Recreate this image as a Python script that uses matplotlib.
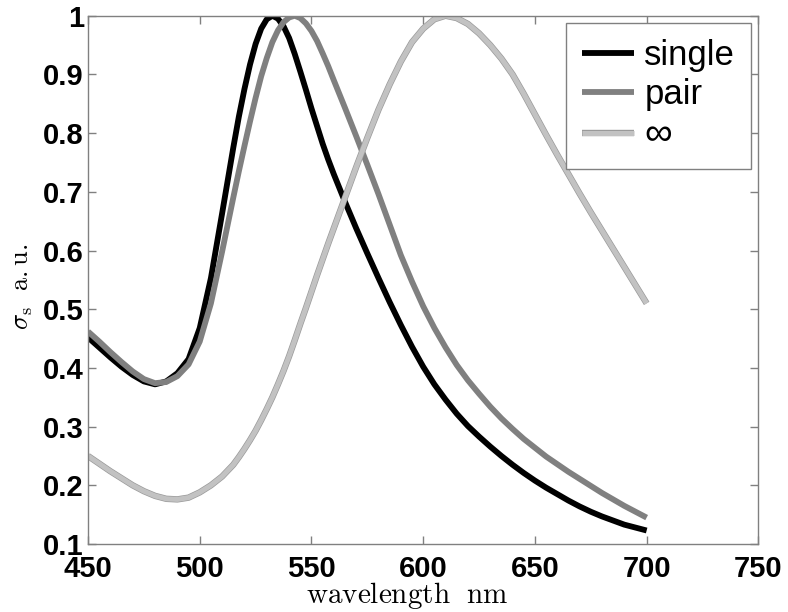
import matplotlib
matplotlib.use('Agg')
import matplotlib.pyplot as plt
import matplotlib.patheffects as pe

plt.rcParams['font.family'] = ['Liberation Sans', 'DejaVu Sans']
plt.rcParams['mathtext.fontset'] = 'cm'

wavelength = [450, 455, 460, 465, 470, 475, 480, 485, 490, 495,
              500, 505, 510,
              515, 517.5, 520, 522.5, 525, 527.5, 530, 532.5, 535, 537.5,
              540, 542.5, 545, 547.5, 550, 552.5, 555, 557.5, 560,
              565, 570, 575, 580, 585, 590, 595,
              600, 605, 610, 615, 620, 625, 630, 635, 640, 645,
              650, 655, 660, 665, 670, 675, 680, 685, 690, 695, 700]

single = [0.452, 0.435, 0.418, 0.402, 0.388, 0.377, 0.372, 0.377, 0.391, 0.415,
          0.468, 0.553, 0.663,
          0.775, 0.828, 0.875, 0.917, 0.952, 0.978, 0.994, 1.000, 0.995, 0.982,
          0.962, 0.935, 0.905, 0.874, 0.842, 0.812, 0.782, 0.755, 0.730,
          0.683, 0.638, 0.595, 0.553, 0.512, 0.473, 0.436,
          0.402, 0.372, 0.346, 0.322, 0.301, 0.283, 0.266, 0.250, 0.235, 0.221,
          0.208, 0.196, 0.185, 0.174, 0.164, 0.155, 0.147, 0.140, 0.133, 0.128, 0.123]

pair = [0.462, 0.445, 0.427, 0.410, 0.394, 0.381, 0.374, 0.376, 0.386, 0.406,
        0.445, 0.510, 0.598,
        0.690, 0.735, 0.778, 0.820, 0.860, 0.897, 0.928, 0.955, 0.975, 0.989,
        0.997, 1.000, 0.996, 0.987, 0.974, 0.957, 0.936, 0.914, 0.890,
        0.843, 0.795, 0.746, 0.696, 0.644, 0.592, 0.547,
        0.505, 0.468, 0.435, 0.405, 0.379, 0.356, 0.334, 0.314, 0.296, 0.279,
        0.264, 0.249, 0.236, 0.223, 0.211, 0.199, 0.187, 0.176, 0.165, 0.155, 0.145]

infinite = [0.250, 0.237, 0.224, 0.212, 0.200, 0.190, 0.182, 0.177, 0.176, 0.179,
            0.188, 0.200, 0.215,
            0.235, 0.248, 0.262, 0.277, 0.293, 0.311, 0.330, 0.350, 0.372, 0.395,
            0.420, 0.447, 0.475, 0.502, 0.530, 0.558, 0.585, 0.612, 0.638,
            0.690, 0.742, 0.792, 0.840, 0.883, 0.922, 0.955,
            0.978, 0.994, 1.000, 0.996, 0.986, 0.970, 0.950, 0.927, 0.900, 0.867,
            0.832, 0.797, 0.763, 0.730, 0.697, 0.665, 0.634, 0.603, 0.572, 0.541, 0.510]

xticks = [450, 500, 550, 600, 650, 700, 750]
yticks = [0.1, 0.2, 0.3, 0.4, 0.5, 0.6, 0.7, 0.8, 0.9, 1.0]
ytick_labels = ['0.1', '0.2', '0.3', '0.4', '0.5', '0.6', '0.7', '0.8', '0.9', '1']

fig = plt.figure(figsize=(7.88, 6.12), dpi=100)
ax = fig.add_axes([0.1117, 0.1111, 0.8507, 0.8632])

style = dict(solid_joinstyle='round', solid_capstyle='butt')
ax.plot(wavelength, single, color='black', lw=4.2, label='single', **style)
ax.plot(wavelength, pair, color='#808080', lw=4.2, label='pair', **style)
ax.plot(wavelength, infinite, color='#c2c2c2', lw=3.6, label='∞',
        path_effects=[pe.Stroke(linewidth=4.6, foreground='#9a9a9a'), pe.Normal()],
        **style)

ax.set_xlim(450, 750)
ax.set_ylim(0.1, 1.0)
ax.set_xticks(xticks)
ax.set_yticks(yticks)
ax.set_yticklabels(ytick_labels)

for lab in ax.get_xticklabels() + ax.get_yticklabels():
    lab.set_fontweight('bold')
    lab.set_fontsize(21)

ax.tick_params(direction='in', length=6, width=1, color='#808080',
               top=True, right=True, pad=3)
ax.tick_params(axis='x', pad=8)
for sp in ax.spines.values():
    sp.set_color('#808080')
    sp.set_linewidth(1)

ax.set_xlabel(r'$\mathrm{wavelength\ \ nm}$', fontsize=21)
ax.xaxis.set_label_coords(0.476, -0.069)
ax.set_ylabel(r'$\sigma_{\mathrm{s}}\ \ \mathrm{a.u.}$', fontsize=19)
ax.yaxis.set_label_coords(-0.079, 0.486)

leg = ax.legend(loc='upper right', fontsize=25, handlelength=1.5,
                handletextpad=0.3, labelspacing=0.18, borderaxespad=0.22,
                borderpad=0.45, fancybox=False, framealpha=1)
leg.get_frame().set_edgecolor('#808080')
leg.get_frame().set_linewidth(1)
leg.get_texts()[2].set_fontsize(28)

fig.savefig('out.png', dpi=100)
